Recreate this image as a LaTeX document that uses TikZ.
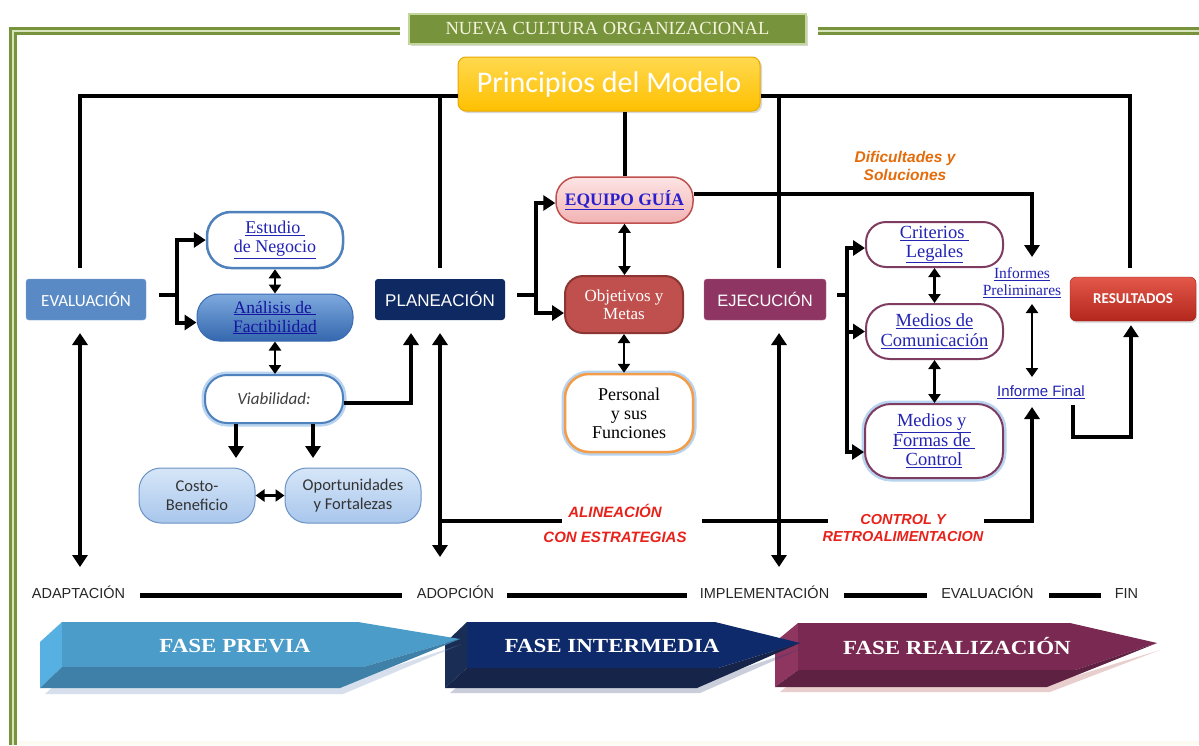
\documentclass[tikz,border=0pt]{standalone}
\usepackage{fontspec}
\usepackage{graphicx}
\setmainfont{Liberation Serif}
\setsansfont{Liberation Sans}
\newfontfamily\calib{Carlito}
\usetikzlibrary{arrows.meta,calc,shadows}
\newcommand\fsz[2]{\fontsize{#1}{#2}\selectfont}

\definecolor{oliveg}{HTML}{77933C}
\definecolor{palegreen}{HTML}{D7E4BC}
\definecolor{lightolive}{HTML}{C3D69B}
\definecolor{cream}{HTML}{F6F4DC}
\definecolor{evalblue}{HTML}{5A8AC6}
\definecolor{bluebd}{HTML}{4F81BD}
\definecolor{linkblue}{HTML}{2323B4}
\definecolor{navy}{HTML}{0F2A62}
\definecolor{brick}{HTML}{C0504D}
\definecolor{brickbd}{HTML}{8C3533}
\definecolor{plum}{HTML}{8E3563}
\definecolor{plumbd}{HTML}{7E3C61}
\definecolor{glow}{HTML}{B8D4F0}
\definecolor{orangebd}{HTML}{F39C4A}
\definecolor{difor}{HTML}{E46C0A}
\definecolor{alred}{HTML}{E8211A}
\definecolor{goldbd}{HTML}{E8A800}
\definecolor{goldtop}{HTML}{FFD94F}
\definecolor{goldbot}{HTML}{FFC000}
\definecolor{redbd}{HTML}{9E2018}
\definecolor{redtop}{HTML}{E2584A}
\definecolor{redbot}{HTML}{B3261C}
\definecolor{anbd}{HTML}{3A6DB3}
\definecolor{antop}{HTML}{7EA9DE}
\definecolor{anbot}{HTML}{3467AE}
\definecolor{antext}{HTML}{1414A0}
\definecolor{lbbd}{HTML}{6C93C4}
\definecolor{lbtop}{HTML}{D6E6F8}
\definecolor{lbbot}{HTML}{A8C6EC}
\definecolor{pinktop}{HTML}{FDE4E4}
\definecolor{pinkbot}{HTML}{F2B3B3}
\definecolor{eqtext}{HTML}{2A1FCC}
% phase arrow faces
\definecolor{reLeft}{HTML}{8E3560}
\definecolor{reTop}{HTML}{7A2A52}
\definecolor{reBot}{HTML}{5E2142}
\definecolor{reShade}{HTML}{AA3C3C}
\definecolor{inLeft}{HTML}{1A2E55}
\definecolor{inTop}{HTML}{0E2A6B}
\definecolor{inBot}{HTML}{152448}
\definecolor{inShade}{HTML}{283C6E}
\definecolor{prLeft}{HTML}{56B0E2}
\definecolor{prTop}{HTML}{4B9CC8}
\definecolor{prBot}{HTML}{3E80A8}
\definecolor{prShade}{HTML}{7896BE}

\tikzset{
  trunk/.style={line width=4pt, black},
  vlong/.style={line width=3.5pt, black, {Triangle[width=15pt,length=12pt]}-{Triangle[width=15pt,length=12pt]}},
  tipend/.style={-{Triangle[width=15pt,length=12pt]}},
  dbl/.style={line width=2.5pt, black, {Triangle[width=12pt,length=9pt]}-{Triangle[width=12pt,length=9pt]}},
  sq/.style={rectangle, rounded corners=3pt, inner sep=0pt, align=center, text=white},
  pillbox/.style={rectangle, inner sep=0pt, align=center},
  glowing/.style={preaction={draw=glow, line width=7pt}},
  tl/.style={inner sep=0pt, font=\sffamily\fsz{14.5}{14.5}, text=black!85, anchor=base},
  bar/.style={line width=5pt, black},
  phase/.style={text=white, font=\bfseries\fsz{20}{20}},
}

\begin{document}
\begin{tikzpicture}[x=1pt,y=-1pt]
\useasboundingbox (0,0) rectangle (1199,745);
\fill[white] (0,0) rectangle (1199,745);

% page frame
\fill[cream!40!white] (17,741) rectangle (1199,745);
\draw[line width=8pt, oliveg] (13,745) -- (13,31) -- (400,31);
\draw[line width=2.5pt, palegreen] (13,745) -- (13,31) -- (400,31);
\draw[line width=8pt, oliveg] (818,31) -- (1199,31);
\draw[line width=2.5pt, palegreen] (818,31) -- (1199,31);

% header banner
\node[draw=lightolive, line width=2pt, fill=oliveg, minimum width=397pt, minimum height=30pt,
      inner sep=0pt, text=cream, font=\fsz{18.5}{18.5},
      drop shadow={opacity=0.3, shadow xshift=2pt, shadow yshift=-2pt}]
  (title) at (607.5,29) {NUEVA CULTURA ORGANIZACIONAL};

\node[rounded corners=8pt, draw=goldbd, line width=1pt,
      top color=goldtop, bottom color=goldbot,
      minimum width=302pt, minimum height=54pt, inner sep=0pt, text=white,
      font=\calib\fsz{30}{30},
      drop shadow={opacity=0.3, shadow xshift=2pt, shadow yshift=-2pt}]
  (principios) at (609,84) {Principios del Modelo};

% stage boxes
\node[sq, fill=evalblue, draw=evalblue!80!white, minimum width=120pt, minimum height=41pt,
      font=\calib\fsz{17}{17}] (eval) at (86,299.5) {EVALUACIÓN};
\node[sq, fill=navy, minimum width=130pt, minimum height=41pt,
      font=\sffamily\fsz{17}{17}] (plan) at (440,299.5) {PLANEACIÓN};
\node[sq, fill=plum, draw=plum!70!white, minimum width=122pt, minimum height=41pt,
      font=\sffamily\fsz{16.5}{16.5}] (ejec) at (765,299.5) {EJECUCIÓN};
\node[sq, rounded corners=6pt, draw=redbd, top color=redtop, bottom color=redbot,
      minimum width=126pt, minimum height=44pt, font=\calib\bfseries\fsz{15}{15},
      drop shadow={opacity=0.25, shadow xshift=1pt, shadow yshift=-2pt}]
  (resultados) at (1133,299) {RESULTADOS};

% evaluation branch
\node[pillbox, rounded corners=24pt, fill=white, draw=bluebd, line width=2.5pt,
      minimum width=136pt, minimum height=56pt, text=linkblue, font=\fsz{18}{19}]
  (estudio) at (275,240) {\underline{Estudio\ }\\\underline{de Negocio}};
\node[pillbox, rounded corners=22pt, draw=anbd, line width=1pt,
      top color=antop, bottom color=anbot,
      minimum width=156pt, minimum height=47pt, text=antext, font=\fsz{17.5}{19}]
  (analisis) at (275,317.5) {\underline{Análisis de\ }\\\underline{Factibilidad}};
\node[pillbox, glowing, rounded corners=22pt, fill=white, draw=bluebd, line width=2pt,
      minimum width=138pt, minimum height=48pt, text=black!75, font=\calib\itshape\fsz{17}{17}]
  (viab) at (274,399) {Viabilidad:};
\node[pillbox, rounded corners=22pt, draw=lbbd, line width=1pt,
      top color=lbtop, bottom color=lbbot,
      minimum width=116pt, minimum height=55pt, text=black!80, font=\calib\fsz{16.5}{19}]
  (costo) at (197,495.5) {Costo-\\Beneficio};
\node[pillbox, rounded corners=22pt, draw=lbbd, line width=1pt,
      top color=lbtop, bottom color=lbbot,
      minimum width=136pt, minimum height=55pt, text=black!80, font=\calib\fsz{16.5}{19}]
  (oport) at (353,495.5) {Oportunidades\\y Fortalezas};

% planning branch
\node[pillbox, rounded corners=21pt, draw=brick, line width=1.5pt,
      top color=pinktop, bottom color=pinkbot,
      minimum width=137pt, minimum height=46pt, text=eqtext, font=\bfseries\fsz{17.5}{17.5}]
  (equipo) at (624.5,200) {\underline{EQUIPO GUÍA}};
\node[pillbox, rounded corners=18pt, fill=brick, draw=brickbd, line width=2pt,
      minimum width=118pt, minimum height=57pt, text=white, font=\fsz{17}{18}]
  (objetivos) at (624,304.5) {Objetivos y\\Metas};
\node[pillbox, glowing, rounded corners=24pt, fill=white, draw=orangebd, line width=2.5pt,
      minimum width=128pt, minimum height=78pt, text=black, font=\fsz{18}{19}]
  (personal) at (629,413) {Personal\\y sus\\Funciones};

% execution branch
\node[pillbox, rounded corners=20pt, fill=white, draw=plumbd, line width=2pt,
      minimum width=137pt, minimum height=45pt, text=linkblue, font=\fsz{18.5}{19}]
  (criterios) at (934.5,244.5) {\underline{Criterios\ }\\\underline{Legales}};
\node[pillbox, rounded corners=24pt, fill=white, draw=plumbd, line width=2pt,
      minimum width=137pt, minimum height=55pt, text=linkblue, font=\fsz{18.5}{20}]
  (medcom) at (934.5,331.5) {\underline{Medios de}\\\underline{Comunicación}};
\node[pillbox, glowing, rounded corners=26pt, fill=white, draw=plumbd, line width=2pt,
      minimum width=138pt, minimum height=74pt, text=linkblue, font=\fsz{18.5}{19.5}]
  (medform) at (934,441) {\underline{Medios y\ }\\\underline{Formas de\ }\\\underline{Control}};

\node[align=center, inner sep=0pt, text=linkblue, font=\fsz{15.5}{17}]
  (inf) at (1022,283) {\underline{Informes}\\\underline{Preliminares}};
\node[inner sep=0pt, text=linkblue, font=\sffamily\fsz{15}{15}]
  (final) at (1041,392) {\underline{Informe Final}};

% free labels
\node[align=center, inner sep=0pt, text=difor, font=\sffamily\bfseries\itshape\fsz{15.5}{18.5}]
  (dif) at (905,166) {Dificultades y\\Soluciones};
\node[align=center, inner sep=0pt, text=alred, font=\sffamily\bfseries\itshape\fsz{15}{25}]
  (alin) at (615,523.5) {ALINEACIÓN\\CON ESTRATEGIAS};
\node[align=center, inner sep=0pt, text=alred, font=\sffamily\bfseries\itshape\fsz{14.5}{17}]
  (ctrl) at (903,527.5) {CONTROL Y\\RETROALIMENTACION};

% frame of principles
\coordinate (e1) at (80,268);
\coordinate (p1) at (440,268);
\coordinate (p0) at (440,96);
\coordinate (x1) at (779,268);
\coordinate (x0) at (779,96);
\coordinate (r1) at (1130,268);
\draw[trunk] (e1) |- ([yshift=-12pt]principios.west);
\draw[trunk] (p1) -- (p0);
\draw[trunk] ([yshift=-12pt]principios.east) -| (r1);
\draw[trunk] (x1) -- (x0);
\draw[trunk] (equipo.north) -- (equipo.north |- principios.south);

% evaluation connectors
\coordinate (ef) at (159,295);
\coordinate (ej) at (177,295);
\draw[trunk] (ef) -- (ej);
\draw[trunk, tipend] (ej) |- (estudio.west);
\draw[trunk, tipend] (ej) |- ([yshift=-5pt]analisis.west);
\draw[dbl] (estudio.south) -- (analisis.north);
\draw[dbl] (analisis.south) -- (analisis.south |- viab.north);
\coordinate (c1) at (236,458);
\coordinate (o1) at (313,458);
\draw[trunk, tipend] (viab.south -| c1) -- (c1);
\draw[trunk, tipend] (viab.south -| o1) -- (o1);
\draw[dbl] (costo.east) -- (oport.west);
\coordinate (pa) at (411,333);
\draw[trunk, tipend] ([yshift=-4pt]viab.east) -| (pa);

% long vertical stage arrows
\coordinate (v1a) at (80,333);  \coordinate (v1b) at (80,567);
\coordinate (v2a) at (440,333); \coordinate (v2b) at (440,557);
\coordinate (v3a) at (779,333); \coordinate (v3b) at (779,567);
\draw[vlong] (v1a) -- (v1b);
\draw[vlong] (v2a) -- (v2b);
\draw[vlong] (v3a) -- (v3b);

% alignment / feedback line
\coordinate (a0) at (440,521);
\coordinate (a1) at (562,521);
\coordinate (a2) at (702,521);
\coordinate (a3) at (828,521);
\coordinate (a4) at (984,521);
\coordinate (fin1) at (1032,407);
\draw[trunk] (a0) -- (a1);
\draw[trunk] (a2) -- (a3);
\draw[trunk, tipend] (a4) -| (fin1);

% planning connectors
\coordinate (pf) at (517,295);
\coordinate (pj) at (536,295);
\draw[trunk] (pf) -- (pj);
\draw[trunk, tipend] (pj) |- ([yshift=-3pt]equipo.west);
\draw[trunk, tipend] (pj) |- ([yshift=-8.5pt]objetivos.west);
\draw[dbl] (equipo.south) -- (equipo.south |- objetivos.north);
\draw[dbl] (objetivos.south) -- (objetivos.south |- personal.north);
\coordinate (ip1) at (1032,257);
\draw[trunk, tipend] ([yshift=6pt]equipo.east) -| (ip1);

% execution connectors
\coordinate (xf) at (837,295);
\coordinate (xj) at (847,295);
\draw[trunk] (xf) -- (xj);
\draw[trunk, tipend] (xj) |- ([yshift=-3.5pt]criterios.west);
\draw[trunk, tipend] (xj) |- (medcom.west);
\draw[trunk, tipend] (xj) |- ([yshift=-11pt]medform.west);
\draw[dbl] (criterios.south) -- (criterios.south |- medcom.north);
\draw[dbl] (medcom.south) -- (medcom.south |- medform.north);

% reports
\coordinate (ir1) at (1032,304);
\coordinate (ir2) at (1032,377);
\draw[dbl] (ir1) -- (ir2);
\coordinate (fr) at (1073,405);
\coordinate (fb) at (1131,437);
\draw[trunk, tipend] (fr) |- (fb) -- ([xshift=-2pt,yshift=-4pt]resultados.south);

% timeline
\node[tl] (adap) at (78.5,598) {ADAPTACIÓN};
\node[tl] (adop) at (455.5,598) {ADOPCIÓN};
\node[tl] (impl) at (764.5,598) {IMPLEMENTACIÓN};
\node[tl] (evalu) at (987.5,598) {EVALUACIÓN};
\node[tl] (fin) at (1126.5,598) {FIN};
\draw[bar, shorten <=15pt, shorten >=15pt] ([yshift=3pt]adap.base east) -- ([yshift=3pt]adop.base west);
\draw[bar, shorten <=13pt, shorten >=13pt] ([yshift=3pt]adop.base east) -- ([yshift=3pt]impl.base west);
\draw[bar, shorten <=15pt, shorten >=14pt] ([yshift=3pt]impl.base east) -- ([yshift=3pt]evalu.base west);
\draw[bar, shorten <=15pt, shorten >=14pt] ([yshift=3pt]evalu.base east) -- ([yshift=3pt]fin.base west);

% phase arrows (drawn back to front)
% realization
\fill[reShade, opacity=0.25] (780,692) -- (1050,692) -- (1160,650) -- (1075,676) -- (800,676) -- cycle;
\fill[reLeft] (775,642) -- (798,623) -- (798,670) -- (775,687) -- cycle;
\fill[reTop] (798,623) -- (1070,623) -- (1157,643) -- (1075,670) -- (798,670) -- cycle;
\fill[reBot] (798,670) -- (1075,670) -- (1157,643) -- (1047,687) -- (775,687) -- cycle;
\node[phase] (freal) at (957,646) {\scalebox{1.15}[1]{FASE REALIZACIÓN}};
% intermediate
\fill[inShade, opacity=0.25] (450,693) -- (700,693) -- (803,648) -- (720,676) -- (470,676) -- cycle;
\fill[inLeft] (445,643) -- (467,622) -- (467,668) -- (445,688) -- cycle;
\fill[inTop] (467,622) -- (715,622) -- (800,643) -- (718,668) -- (467,668) -- cycle;
\fill[inBot] (467,668) -- (718,668) -- (800,643) -- (697,688) -- (445,688) -- cycle;
\node[phase] (finter) at (612,646) {\scalebox{1.15}[1]{FASE INTERMEDIA}};
% previous
\fill[prShade, opacity=0.3] (45,694) -- (343,694) -- (462,644) -- (365,676) -- (65,676) -- cycle;
\fill[prLeft] (40,642) -- (62,622) -- (62,667) -- (40,688) -- cycle;
\fill[prTop] (62,622) -- (358,622) -- (460,639) -- (363,667) -- (62,667) -- cycle;
\fill[prBot] (62,667) -- (363,667) -- (460,639) -- (340,688) -- (40,688) -- cycle;
\node[phase] (fprev) at (235,646) {\scalebox{1.15}[1]{FASE PREVIA}};

\end{tikzpicture}
\end{document}
